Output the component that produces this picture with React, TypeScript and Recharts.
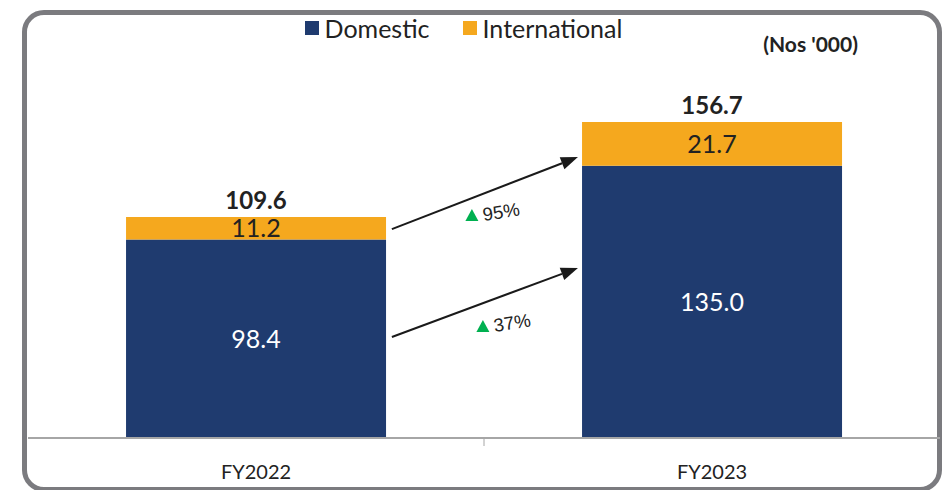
import React from "react";
import {
  BarChart,
  Bar,
  XAxis,
  YAxis,
  LabelList,
  Legend,
  ReferenceLine,
} from "recharts";

const YEARS = ["FY2022", "FY2023"];
const DOMESTIC = [98.4, 135.0];
const INTERNATIONAL = [11.2, 21.7];
const TOTALS = [109.6, 156.7];

// growth arrows between the two years (y values in Nos '000)
const GROWTH_LABELS = ["95%", "37%"];
const ARROW_FROM = [103.6, 50.1];
const ARROW_TO = [139.3, 84.3];

const NAVY = "#1f3b6f";
const ORANGE = "#f5a81e";
const FONT = "Lato, 'Liberation Sans', sans-serif";

const data = YEARS.map((year, i) => ({
  year,
  domestic: DOMESTIC[i],
  international: INTERNATIONAL[i],
  total: TOTALS[i],
}));

const fmt = (v: any) => Number(v).toFixed(1);

const YearTick = (props: any) => {
  const { x, y, payload } = props;
  const half = payload?.offset ?? 0;
  return (
    <g>
      {payload.index === 0 && (
        <line x1={x + half} x2={x + half} y1={y} y2={y + 8} stroke="#a6a6a6" strokeWidth={1} />
      )}
      <text x={x} y={y + 41} textAnchor="middle" fill="#222" fontSize={20} fontFamily={FONT}>
        {payload.value}
      </text>
    </g>
  );
};

const LegendContent = (props: any) => {
  const items = props.payload || [];
  return (
    <div
      style={{
        display: "flex",
        justifyContent: "center",
        gap: 33,
        paddingRight: 15,
        fontFamily: FONT,
        fontSize: 25,
        color: "#222",
        lineHeight: "26px",
      }}
    >
      {items.map((it: any) => (
        <div key={it.value} style={{ display: "flex", alignItems: "center" }}>
          <span style={{ width: 14, height: 14, background: it.color, marginRight: 6, display: "inline-block" }} />
          <span>{it.value}</span>
        </div>
      ))}
    </div>
  );
};

const makeArrow = (label: string, ldx: number, ldy: number) => (props: any) => {
  const { x1, y1, x2, y2 } = props;
  const w = x2 - x1;
  const sx = x1 + w * 0.298;
  const ex = x2 - w * 0.294;
  const ang = Math.atan2(y2 - y1, ex - sx);
  const len = 17;
  const hw = 6.5;
  const bx = ex - len * Math.cos(ang);
  const by = y2 - len * Math.sin(ang);
  const px = -Math.sin(ang) * hw;
  const py = Math.cos(ang) * hw;
  const tx = sx + ldx;
  const ty = y1 + ldy;
  return (
    <g>
      <line x1={sx} y1={y1} x2={bx} y2={by} stroke="#1a1a1a" strokeWidth={2} />
      <polygon points={`${ex},${y2} ${bx + px},${by + py} ${bx - px},${by - py}`} fill="#1a1a1a" />
      <polygon points={`${tx},${ty - 6} ${tx - 6.5},${ty + 6} ${tx + 6.5},${ty + 6}`} fill="#00b050" />
      <text
        x={tx + 12}
        y={ty + 6}
        fontSize={18.5}
        fill="#222"
        fontFamily="'Liberation Sans', Arial, sans-serif"
        transform={`rotate(-9 ${tx + 12} ${ty + 6})`}
      >
        {label}
      </text>
    </g>
  );
};

export default function App() {
  return (
    <div style={{ position: "absolute", left: 0, top: 0, width: 942, height: 490, overflow: "hidden", background: "#fff" }}>
      <div
        style={{
          position: "absolute",
          left: 22,
          top: 10,
          width: 920,
          height: 482,
          boxSizing: "border-box",
          border: "5px solid #7b7b7f",
          borderRadius: 22,
        }}
      />
      <div style={{ position: "absolute", left: 0, top: 0 }}>
        <BarChart
          width={942}
          height={490}
          data={data}
          margin={{ top: 75, right: 2, bottom: 22, left: 28 }}
          barCategoryGap="21.5%"
        >
          <XAxis
            dataKey="year"
            height={30}
            axisLine={{ stroke: "#a6a6a6", strokeWidth: 2 }}
            tickLine={false}
            tickSize={0}
            tickMargin={0}
            tick={<YearTick />}
            interval={0}
          />
          <YAxis hide domain={[0, 180]} />
          <Legend
            layout="horizontal"
            verticalAlign="middle"
            align="center"
            wrapperStyle={{ top: 15, left: 0, width: 942 }}
            content={<LegendContent />}
          />
          <Bar dataKey="domestic" name="Domestic" stackId="a" fill={NAVY} isAnimationActive={false}>
            <LabelList dataKey="domestic" position="center" fill="#fff" fontSize={25} fontFamily={FONT} formatter={fmt} />
          </Bar>
          <Bar dataKey="international" name="International" stackId="a" fill={ORANGE} isAnimationActive={false}>
            <LabelList dataKey="international" position="center" fill="#222" fontSize={25} fontFamily={FONT} formatter={fmt} />
            <LabelList
              dataKey="total"
              position="top"
              offset={8}
              fill="#222"
              fontSize={24}
              fontWeight="bold"
              fontFamily={FONT}
              formatter={fmt}
            />
          </Bar>
          <ReferenceLine
            segment={[{ x: YEARS[0], y: ARROW_FROM[0] }, { x: YEARS[1], y: ARROW_TO[0] }]}
            ifOverflow="visible"
            shape={makeArrow(GROWTH_LABELS[0], 80, -14)}
          />
          <ReferenceLine
            segment={[{ x: YEARS[0], y: ARROW_FROM[1] }, { x: YEARS[1], y: ARROW_TO[1] }]}
            ifOverflow="visible"
            shape={makeArrow(GROWTH_LABELS[1], 91, -11)}
          />
        </BarChart>
      </div>
      <div
        style={{
          position: "absolute",
          right: 84,
          top: 31,
          fontFamily: FONT,
          fontWeight: "bold",
          fontSize: 21,
          color: "#222",
        }}
      >
        (Nos '000)
      </div>
    </div>
  );
}
